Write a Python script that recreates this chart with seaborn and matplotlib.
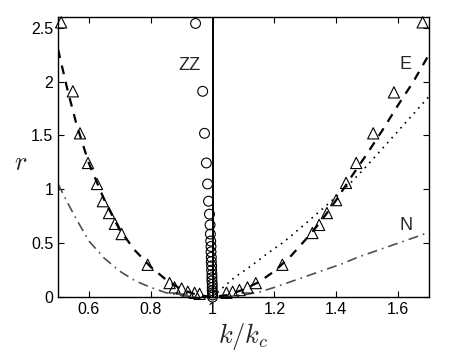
import matplotlib
matplotlib.use("Agg")
import matplotlib.pyplot as plt
import seaborn as sns
import pandas as pd

# dashed curve (E)
e_k = [0.50, 0.53, 0.56, 0.60, 0.65, 0.70, 0.75, 0.80, 0.85, 0.90, 0.95, 1.00,
       1.05, 1.10, 1.15, 1.20, 1.25, 1.30, 1.35, 1.40, 1.45, 1.50, 1.55, 1.60, 1.65, 1.70]
e_r = [2.30, 1.93, 1.60, 1.24, 0.90, 0.62, 0.43, 0.28, 0.16, 0.07, 0.02, 0.00,
       0.02, 0.07, 0.14, 0.24, 0.37, 0.53, 0.70, 0.90, 1.12, 1.33, 1.55, 1.78, 2.00, 2.25]

# dotted curve
d_k = [1.00, 1.03, 1.07, 1.12, 1.18, 1.23, 1.30, 1.34, 1.40, 1.45, 1.50, 1.55, 1.60, 1.65, 1.70]
d_r = [0.00, 0.08, 0.18, 0.28, 0.41, 0.51, 0.68, 0.78, 0.93, 1.07, 1.22, 1.38, 1.54, 1.70, 1.86]

# dash-dot curve (N)
n_k = [0.50, 0.53, 0.56, 0.60, 0.65, 0.70, 0.75, 0.80, 0.85, 0.90, 0.95, 1.00,
       1.05, 1.10, 1.15, 1.20, 1.25, 1.30, 1.36, 1.42, 1.47, 1.53, 1.58, 1.64, 1.70]
n_r = [1.05, 0.88, 0.72, 0.52, 0.36, 0.24, 0.15, 0.09, 0.04, 0.015, 0.003, 0.0,
       0.005, 0.02, 0.045, 0.09, 0.14, 0.19, 0.25, 0.31, 0.37, 0.43, 0.48, 0.54, 0.60]

# triangles
tri_k = [0.51, 0.548, 0.571, 0.597, 0.626, 0.645, 0.665, 0.684, 0.706, 0.79,
         0.861, 0.877, 0.90, 0.92, 0.942, 0.958,
         1.045, 1.065, 1.087, 1.113, 1.14, 1.226, 1.323, 1.345, 1.37, 1.40,
         1.432, 1.465, 1.52, 1.587, 1.68]
tri_r = [2.55, 1.91, 1.52, 1.245, 1.05, 0.89, 0.78, 0.68, 0.585, 0.30,
         0.13, 0.09, 0.08, 0.05, 0.04, 0.03,
         0.04, 0.05, 0.065, 0.09, 0.13, 0.30, 0.595, 0.67, 0.78, 0.90,
         1.06, 1.245, 1.52, 1.90, 2.55]

# circles
circ_k = [0.945, 0.968, 0.974, 0.980, 0.984, 0.987, 0.990, 0.992, 0.993,
          0.994, 0.995, 0.995, 0.996, 0.996, 0.997, 0.997, 0.998, 0.998,
          0.998, 0.999, 0.999, 0.999, 1.0, 1.0, 1.0]
circ_r = [2.54, 1.91, 1.52, 1.245, 1.05, 0.89, 0.77, 0.67, 0.585,
          0.52, 0.47, 0.42, 0.37, 0.33, 0.29, 0.25, 0.21, 0.18,
          0.15, 0.12, 0.09, 0.06, 0.04, 0.02, 0.0]

sns.set_style("ticks")
plt.rcParams["mathtext.fontset"] = "cm"
plt.rcParams["font.family"] = ["Liberation Sans", "DejaVu Sans"]

fig = plt.figure(figsize=(4.5, 3.61), dpi=100)
ax = fig.add_axes([0.129, 0.177, 0.824, 0.776])

ax.axvline(1.0, color="black", lw=1.4, zorder=1)

sns.lineplot(x=n_k, y=n_r, ax=ax, color="#505050", lw=1.2, sort=False,
             estimator=None, linestyle=(0, (6, 3, 1, 3)))
sns.lineplot(x=d_k, y=d_r, ax=ax, color="black", lw=1.2, sort=False,
             estimator=None, linestyle=(0, (1, 3)))
sns.lineplot(x=e_k, y=e_r, ax=ax, color="black", lw=1.6, sort=False,
             estimator=None, linestyle=(0, (4, 3.5)))

sns.scatterplot(x=tri_k, y=tri_r, ax=ax, marker="^", s=65, facecolor="none",
                edgecolor="black", linewidth=0.8, zorder=3, clip_on=False)
sns.scatterplot(x=circ_k, y=circ_r, ax=ax, marker="o", s=50, facecolor="none",
                edgecolor="black", linewidth=0.8, zorder=3, clip_on=False)

ax.text(0.926, 2.15, "ZZ", fontsize=13, ha="center", va="center")
ax.text(1.626, 2.16, "E", fontsize=13, ha="center", va="center")
ax.text(1.626, 0.66, "N", fontsize=13, ha="center", va="center")

ax.set_xlim(0.5, 1.7)
ax.set_ylim(0, 2.6)
ax.set_xticks([0.6, 0.8, 1.0, 1.2, 1.4, 1.6])
ax.set_xticklabels(["0.6", "0.8", "1", "1.2", "1.4", "1.6"])
ax.set_yticks([0, 0.5, 1, 1.5, 2, 2.5])
ax.set_yticklabels(["0", "0.5", "1", "1.5", "2", "2.5"])
ax.tick_params(direction="in", length=4, width=0.8, top=True, right=True,
               labelsize=11.5, colors="black")
for s in ax.spines.values():
    s.set_visible(True)
    s.set_linewidth(1.0)
    s.set_color("black")

ax.set_xlabel("$k/k_c$", fontsize=19)
ax.xaxis.set_label_coords(0.5, -0.085)
ax.set_ylabel("$r$", fontsize=19, rotation=0, va="center")
ax.yaxis.set_label_coords(-0.1, 0.48)

fig.savefig("out.png", dpi=100)
